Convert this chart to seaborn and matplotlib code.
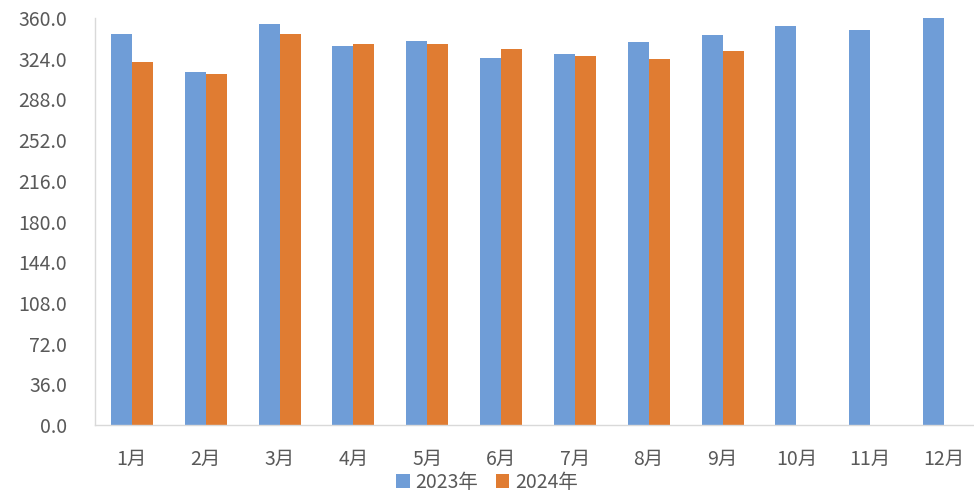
import matplotlib
matplotlib.use("Agg")
import matplotlib.pyplot as plt
import seaborn as sns
import pandas as pd
import numpy as np
from matplotlib.ticker import FormatStrFormatter, MultipleLocator

months = ["1月", "2月", "3月", "4月", "5月", "6月", "7月", "8月", "9月", "10月", "11月", "12月"]
series_names = ["2023年", "2024年"]
values_2023 = [346.1, 312.0, 354.4, 335.2, 339.9, 324.9, 328.4, 338.5, 344.9, 353.2, 349.7, 360.0]
values_2024 = [321.4, 310.8, 346.1, 336.7, 336.7, 332.8, 326.1, 323.7, 330.8, np.nan, np.nan, np.nan]
colors = ["#6F9DD7", "#E07C32"]

df = pd.DataFrame({
    "month": months * 2,
    "series": [series_names[0]] * 12 + [series_names[1]] * 12,
    "value": values_2023 + values_2024,
})

sns.set_theme(style="white")
plt.rcParams["font.family"] = ["Noto Sans CJK SC", "DejaVu Sans"]

fig = plt.figure(figsize=(9.74, 5.03), dpi=100)
ax = fig.add_axes([95 / 974, 78 / 503, (981 - 95) / 974, (425 - 18) / 503])

sns.barplot(data=df, x="month", y="value", hue="series", order=months,
            hue_order=series_names, palette=colors, width=0.57,
            saturation=1, ax=ax, legend=True, linewidth=0)

ax.set_ylim(0, 360)
ax.set_xlim(-0.5, 11.5)
ax.yaxis.set_major_locator(MultipleLocator(36))
ax.yaxis.set_major_formatter(FormatStrFormatter("%.1f"))
ax.set_xlabel("")
ax.set_ylabel("")
for s in ["top", "right"]:
    ax.spines[s].set_visible(False)
for s in ["left", "bottom"]:
    ax.spines[s].set_color("#D9D9D9")
    ax.spines[s].set_linewidth(1)
ax.tick_params(axis="both", length=0, colors="#595959", labelsize=14)
ax.tick_params(axis="x", pad=17)
ax.tick_params(axis="y", pad=20)

leg = ax.legend(loc="upper center", bbox_to_anchor=((487 - 95) / 886, -0.115),
                ncol=2, frameon=False, fontsize=14, handlelength=0.7,
                handleheight=0.7, handletextpad=0.3, columnspacing=0.9,
                borderaxespad=0, borderpad=0)
for t in leg.get_texts():
    t.set_color("#595959")

fig.savefig("out.png", dpi=100)
